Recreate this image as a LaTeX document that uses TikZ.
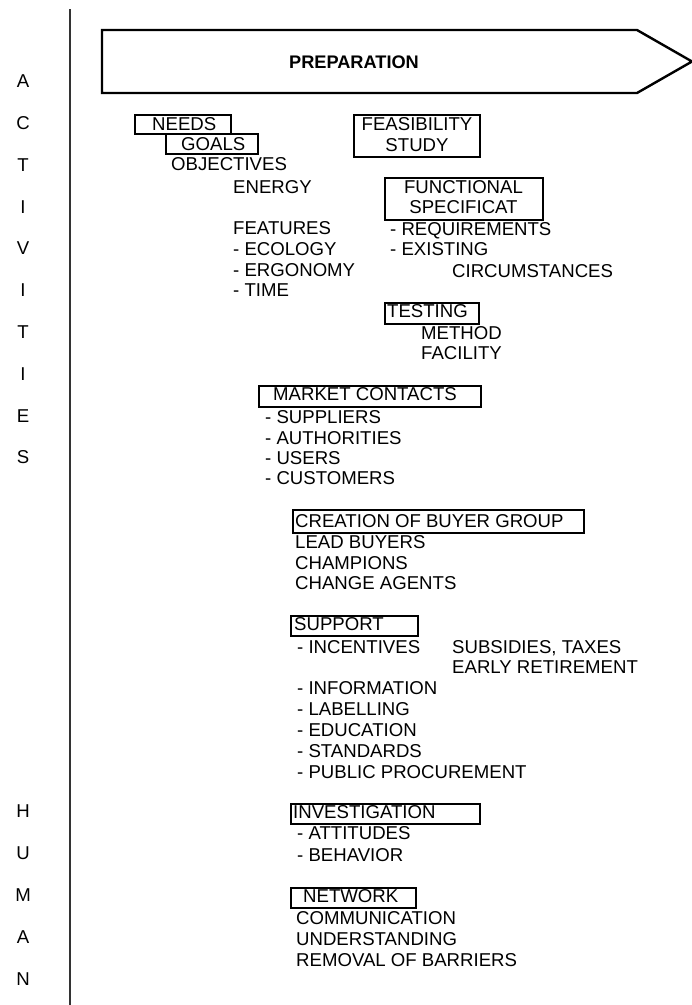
\documentclass[tikz,border=0pt]{standalone}
\usepackage{fontspec}
\setmainfont{Liberation Sans}
\begin{document}
\begin{tikzpicture}[x=1pt,y=-1pt,
  txt/.style={anchor=base west, inner sep=0pt, yshift=-6.7pt, font=\fontsize{18.6}{21}\selectfont},
  ctxt/.style={anchor=base, inner sep=0pt, yshift=-6.7pt, font=\fontsize{18.6}{21}\selectfont},
  hbox/.style={draw, line width=1.6pt, inner sep=0pt, anchor=north west}]
\useasboundingbox (0,0) rectangle (692,1005);
% left axis
\coordinate (axtop) at (70,9);
\coordinate (axbot) at (70,1005);
\draw[line width=1.1pt, black!80] (axtop) -- (axbot);
\foreach \l [count=\i] in {A,C,T,I,V,I,T,I,E,S}
  \node[ctxt] (act\i) at (23,{81+41.8*(\i-1)}) {\l};
\foreach \l [count=\i] in {H,U,M,A,N}
  \node[ctxt] (hum\i) at (23,{811+42*(\i-1)}) {\l};
% preparation arrow
\draw[line width=2.4pt, line join=miter] (102,30) -- (637,30) -- (692,61.5) -- (637,93) -- (102,93) -- cycle;
\node[ctxt, font=\fontsize{18.2}{21}\selectfont\bfseries] (prep) at (354,62) {PREPARATION};
% needs / goals / objectives
\node[hbox, minimum width=96pt, minimum height=19pt] (needsbox) at (134,114) {};
\node[txt] (needs) at (152,123.5) {NEEDS};
\node[hbox, minimum width=92pt, minimum height=20pt] (goalsbox) at (165,133) {};
\node[txt] (goals) at (181,143.5) {GOALS};
\node[txt] (obj) at (171,164) {OBJECTIVES};
\node[txt] (energy) at (233,187) {ENERGY};
\foreach \t [count=\i] in {FEATURES,- ECOLOGY,- ERGONOMY,- TIME}
  \node[txt] (feat\i) at (233,{228+20.7*(\i-1)}) {\t};
% feasibility
\node[hbox, minimum width=126pt, minimum height=42pt] (feasbox) at (353,114) {};
\node[ctxt] (feas1) at (417,124) {FEASIBILITY};
\node[ctxt] (feas2) at (417,145) {STUDY};
% functional specification
\node[hbox, minimum width=158pt, minimum height=42pt] (funcbox) at (384,177) {};
\node[ctxt] (func1) at (463.5,187) {FUNCTIONAL};
\node[ctxt] (func2) at (463.5,207) {SPECIFICAT};
\node[txt] (req) at (390,229) {- REQUIREMENTS};
\node[txt] (exist) at (390,249) {- EXISTING};
\node[txt] (circ) at (452,271) {CIRCUMSTANCES};
% testing
\node[hbox, minimum width=94pt, minimum height=21pt] (testbox) at (384,302) {};
\node[txt] (test) at (387,311) {TESTING};
\node[txt] (method) at (421,333) {METHOD};
\node[txt] (facil) at (421,353) {FACILITY};
% market contacts
\node[hbox, minimum width=222pt, minimum height=21pt] (mcbox) at (258,385) {};
\node[txt] (mc) at (273,394) {MARKET CONTACTS};
\foreach \t [count=\i] in {- SUPPLIERS,- AUTHORITIES,- USERS,- CUSTOMERS}
  \node[txt] (mc\i) at (265,{417+20.3*(\i-1)}) {\t};
% buyer group
\node[hbox, minimum width=291pt, minimum height=23pt] (cbbox) at (292,509) {};
\node[txt] (cb) at (295,521) {CREATION OF BUYER GROUP};
\foreach \t [count=\i] in {LEAD BUYERS,CHAMPIONS,CHANGE AGENTS}
  \node[txt] (cb\i) at (295,{542+20.5*(\i-1)}) {\t};
% support
\node[hbox, minimum width=127pt, minimum height=20pt] (supbox) at (290,615) {};
\node[txt] (sup) at (294,623.5) {SUPPORT};
\node[txt] (inc) at (297,646.5) {- INCENTIVES};
\node[txt] (subs) at (452,646.5) {SUBSIDIES, TAXES};
\node[txt] (early) at (452,666.5) {EARLY RETIREMENT};
\foreach \t [count=\i] in {- INFORMATION,- LABELLING,- EDUCATION,- STANDARDS,- PUBLIC PROCUREMENT}
  \node[txt] (sup\i) at (297,{688+21*(\i-1)}) {\t};
% investigation
\node[hbox, minimum width=189pt, minimum height=20pt] (invbox) at (290,803) {};
\node[txt] (inv) at (293,812) {INVESTIGATION};
\node[txt] (att) at (297,833) {- ATTITUDES};
\node[txt] (beh) at (297,855) {- BEHAVIOR};
% network
\node[hbox, minimum width=125pt, minimum height=20pt] (netbox) at (290,887) {};
\node[txt] (net) at (303,896) {NETWORK};
\foreach \t [count=\i] in {COMMUNICATION,UNDERSTANDING,REMOVAL OF BARRIERS}
  \node[txt] (net\i) at (296,{918+21*(\i-1)}) {\t};
\end{tikzpicture}
\end{document}
